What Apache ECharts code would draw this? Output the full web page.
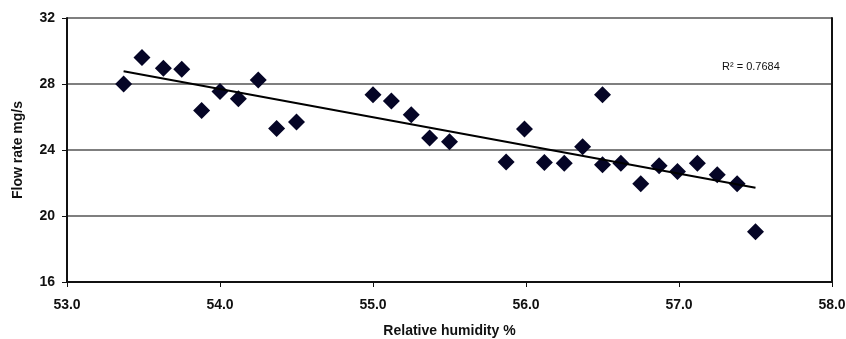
<!DOCTYPE html>
<html>
<head>
<meta charset="utf-8">
<script src="https://cdn.jsdelivr.net/npm/echarts@6/dist/echarts.min.js"></script>
<style>
  html, body { margin: 0; padding: 0; background: #fff; }
  #container { width: 846px; height: 339px; }
</style>
</head>
<body>
<div id="container"></div>
<script>
var humidity = [53.37, 53.49, 53.63, 53.75, 53.88, 54.0, 54.12, 54.25, 54.37, 54.5,
  55.0, 55.12, 55.25, 55.37, 55.5, 55.87, 55.99, 56.12, 56.25, 56.37,
  56.5, 56.5, 56.62, 56.75, 56.87, 56.99, 57.12, 57.25, 57.38, 57.5];
var flowRate = [28.0, 29.6, 28.95, 28.9, 26.4, 27.55, 27.1, 28.25, 25.3, 25.7,
  27.35, 26.97, 26.13, 24.72, 24.5, 23.27, 25.28, 23.25, 23.2, 24.2,
  27.35, 23.1, 23.2, 21.95, 23.05, 22.7, 23.2, 22.5, 21.95, 19.05];
var rSquaredText = 'R² = 0.7684';

var dom = document.getElementById('container');
var myChart = echarts.init(dom);

// least squares line through the points
var n = humidity.length, sx = 0, sy = 0, sxx = 0, sxy = 0;
for (var i = 0; i < n; i++) {
  sx += humidity[i]; sy += flowRate[i];
  sxx += humidity[i] * humidity[i]; sxy += humidity[i] * flowRate[i];
}
var slope = (n * sxy - sx * sy) / (n * sxx - sx * sx);
var icpt = (sy - slope * sx) / n;
var xMin = Math.min.apply(null, humidity), xMax = Math.max.apply(null, humidity);
var trend = [[xMin, icpt + slope * xMin], [xMax, icpt + slope * xMax]];

var pts = humidity.map(function (x, i) { return [x, flowRate[i]]; });
var font = '"Liberation Sans", Arial, sans-serif';

var option = {
  animation: false,
  grid: { left: 67, right: 14, top: 18, bottom: 57, outerBoundsMode: 'none' },
  xAxis: {
    type: 'value', min: 53, max: 58, interval: 1,
    name: 'Relative humidity %', nameLocation: 'middle', nameGap: 42,
    nameTextStyle: { fontFamily: font, fontWeight: 'bold', fontSize: 14, color: '#111' },
    axisLine: { onZero: false, lineStyle: { color: '#111', width: 2 } },
    axisTick: { show: true, length: 5, lineStyle: { color: '#111', width: 1 } },
    axisLabel: { fontFamily: font, fontWeight: 'bold', fontSize: 14, color: '#111', margin: 16,
      formatter: function (v) { return v.toFixed(1); } },
    splitLine: { show: false }
  },
  yAxis: [{
    type: 'value', min: 16, max: 32, interval: 4,
    name: 'Flow rate mg/s', nameLocation: 'middle', nameGap: 42, nameRotate: 90,
    nameTextStyle: { fontFamily: font, fontWeight: 'bold', fontSize: 14, color: '#111' },
    axisLine: { show: true, lineStyle: { color: '#111', width: 2 } },
    axisTick: { show: true, length: 5, lineStyle: { color: '#111', width: 1 } },
    axisLabel: { fontFamily: font, fontWeight: 'bold', fontSize: 14, color: '#111', margin: 12 },
    splitLine: { show: true, lineStyle: { color: '#555', width: 1.5 } }
  }, {
    type: 'value', min: 16, max: 32, interval: 4, position: 'right',
    axisLine: { show: true, lineStyle: { color: '#111', width: 2 } },
    axisTick: { show: false }, axisLabel: { show: false }, splitLine: { show: false }
  }],
  series: [{
    type: 'scatter',
    data: pts,
    symbol: 'diamond',
    symbolSize: 17,
    itemStyle: { color: '#050526', opacity: 1 },
    z: 3
  }, {
    type: 'line',
    data: trend,
    symbol: 'none',
    lineStyle: { color: '#000', width: 2 },
    z: 4
  }],
  graphic: [{
    type: 'text', left: 722, top: 61,
    style: { text: rSquaredText, fontFamily: font, fontSize: 11, fill: '#111' }
  }]
};

if (option && typeof option === 'object') {
  myChart.setOption(option);
}
</script>
</body>
</html>
